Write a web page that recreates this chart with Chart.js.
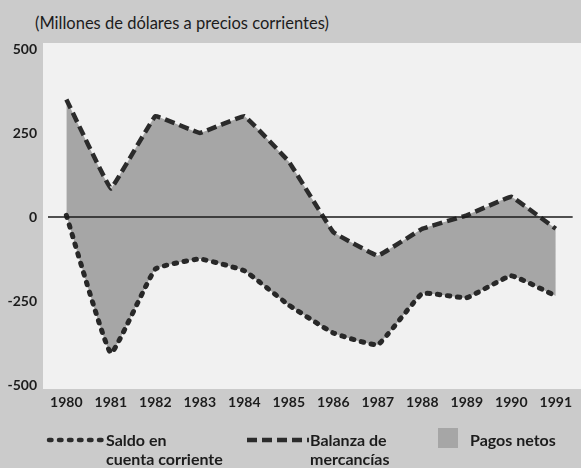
<!DOCTYPE html>
<html>
<head>
<meta charset="utf-8">
<script src="https://cdn.jsdelivr.net/npm/chart.js@4"></script>
<style>
  html, body { margin: 0; padding: 0; }
  body { width: 581px; height: 468px; background: #cbcbcb; position: relative; overflow: hidden; font-family: Lato, "Open Sans", sans-serif; color: #1c1c1c; }
  #panel { position: absolute; left: 43px; top: 43px; width: 538px; height: 346px; background: #f1f1f1; }
  #wrap { position: absolute; left: 0; top: 0; width: 581px; height: 468px; }
  #title { position: absolute; left: 35px; top: 13px; font-size: 16.5px; white-space: nowrap; }
  .leg { position: absolute; font-size: 16px; font-weight: bold; line-height: 19px; white-space: nowrap; }
</style>
</head>
<body>
<div id="panel"></div>
<div id="title">(Millones de dólares a precios corrientes)</div>
<div id="wrap"><canvas id="chart" width="581" height="468"></canvas></div>

<div class="leg" style="left:106px; top:430px;">Saldo en<br>cuenta corriente</div>
<svg style="position:absolute; left:46px; top:434px;" width="60" height="12">
  <line x1="3" y1="6" x2="58" y2="6" stroke="#2b2b2b" stroke-width="4.5" stroke-dasharray="2.5 7.5" stroke-linecap="round"/>
</svg>
<div class="leg" style="left:310px; top:430px;">Balanza de<br>mercancías</div>
<svg style="position:absolute; left:246px; top:434px;" width="64" height="12">
  <line x1="1" y1="6" x2="63" y2="6" stroke="#2b2b2b" stroke-width="4.5" stroke-dasharray="10 5"/>
</svg>
<div style="position:absolute; left:438px; top:428px; width:20px; height:20px; background:#a6a6a6;"></div>
<div class="leg" style="left:470px; top:430px;">Pagos netos</div>

<script>
var years = [1980, 1981, 1982, 1983, 1984, 1985, 1986, 1987, 1988, 1989, 1990, 1991];
var saldo = [5, -405, -155, -125, -160, -262, -345, -380, -228, -240, -175, -235];
var balanza = [350, 85, 300, 250, 300, 165, -45, -115, -35, 5, 60, -35];
var yTicks = [-500, -250, 0, 250, 500];

function toPoints(values) {
    let pts = [];
    for (let i = 0; i < years.length; i++) {
        pts.push({ x: years[i], y: values[i] });
    }
    return pts;
}

// zero line drawn over the filled area
var zeroLine = {
    id: 'zeroLine',
    afterDatasetsDraw: function (c) {
        let y = c.scales.y.getPixelForValue(0);
        let ctx = c.ctx;
        ctx.save();
        ctx.strokeStyle = '#1a1a1a';
        ctx.lineWidth = 1.5;
        ctx.beginPath();
        ctx.moveTo(c.chartArea.left + 3, y);
        ctx.lineTo(c.chartArea.right, y);
        ctx.stroke();
        ctx.restore();
    }
};

var chart = new Chart(document.getElementById('chart').getContext('2d'), {
    type: 'line',
    data: {
        datasets: [
            {
                label: 'Saldo en cuenta corriente',
                data: toPoints(saldo),
                borderColor: '#282828',
                borderWidth: 5,
                borderDash: [2.5, 7.5],
                borderCapStyle: 'round',
                pointRadius: 0,
                tension: 0.1,
                fill: false
            },
            {
                label: 'Balanza de mercancías',
                data: toPoints(balanza),
                borderColor: '#2b2b2b',
                borderWidth: 4.5,
                borderDash: [10, 5],
                pointRadius: 0,
                tension: 0.05,
                fill: '-1',
                backgroundColor: '#a6a6a6'
            }
        ]
    },
    options: {
        responsive: false,
        animation: false,
        layout: { padding: { top: 49, left: 0, right: 0, bottom: 0 } },
        plugins: {
            legend: { display: false },
            tooltip: { enabled: false }
        },
        scales: {
            x: {
                type: 'linear',
                min: 1979.52,
                max: 1991.38,
                border: { display: false },
                grid: { display: false, drawTicks: false },
                afterFit: function (s) { s.height = 83; },
                ticks: {
                    stepSize: 1,
                    includeBounds: false,
                    autoSkip: false,
                    maxRotation: 0,
                    padding: 9,
                    color: '#1c1c1c',
                    font: { family: 'Lato', size: 14, weight: 'bold' },
                    callback: function (v) { return years.indexOf(v) >= 0 ? String(v) : ''; }
                }
            },
            y: {
                min: yTicks[0],
                max: yTicks[yTicks.length - 1],
                border: { display: false },
                afterFit: function (s) { s.width = 45; },
                grid: { display: false, drawTicks: false },
                ticks: {
                    stepSize: 250,
                    padding: 8,
                    color: '#1c1c1c',
                    font: { family: 'Lato', size: 14, weight: 'bold' },
                    callback: function (v) { return yTicks.indexOf(v) >= 0 ? String(v) : ''; }
                }
            }
        }
    },
    plugins: [zeroLine]
});
</script>
</body>
</html>
